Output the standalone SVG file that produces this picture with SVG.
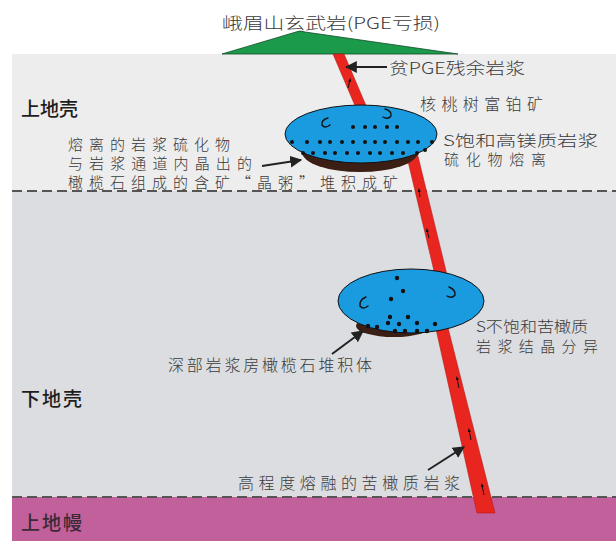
<svg xmlns="http://www.w3.org/2000/svg" width="616" height="546" viewBox="0 0 616 546">
  <defs>
    <marker id="head" viewBox="0 0 10 10" refX="9" refY="5" markerWidth="6" markerHeight="6" orient="auto" markerUnits="strokeWidth">
      <path d="M0,0 L10,5 L0,10 z" fill="#222"/>
    </marker>
    <marker id="flow" viewBox="0 0 10 10" refX="5" refY="5" markerWidth="4" markerHeight="4" orient="auto">
      <path d="M0,1 L10,5 L0,9 z" fill="#111"/>
    </marker>
  </defs>
  <style>
    .song { font-family: "Noto Sans CJK SC", "Liberation Serif", sans-serif; fill: #3a3a3a; font-size: 16px; font-weight: 300; }
    .tight { font-size: 15px; }
    .hei { font-family: "Noto Sans CJK SC", "Liberation Sans", sans-serif; fill: #1e1e1e; font-size: 19px; font-weight: 500; }
    .dash { stroke: #555; stroke-width: 2; stroke-dasharray: 10 5; fill: none; }
    .dike { fill: #e8261f; stroke: #b81a16; stroke-width: 0.6; }
    .pointer { stroke: #222; stroke-width: 2; fill: none; marker-end: url(#head); }
    .dot { fill: #111; }
    .hook { fill: none; stroke: #111; stroke-width: 1.4; stroke-linecap: round; }
    .chamber { fill: #1a9be0; stroke: #111; stroke-width: 1; }
    .cumulate { fill: #3b1e14; }
    .tick { stroke: #111; stroke-width: 1; marker-end: url(#flow); }
  </style>

  <!-- crust and mantle layers -->
  <g id="layers">
    <rect x="0" y="0" width="616" height="546" fill="#ffffff"/>
    <rect x="12" y="54" width="604" height="137" fill="#ededed"/>
    <rect x="12" y="191" width="604" height="306" fill="#dcdde0"/>
    <rect x="12" y="497" width="604" height="44" fill="#c2609c"/>
    <line class="dash" x1="12" y1="191" x2="616" y2="191"/>
    <line class="dash" x1="12" y1="497" x2="616" y2="497"/>
  </g>

  <!-- Emeishan basalt cover -->
  <g id="basalt">
    <path d="M222,54 L296,32 Q300,30 305,32 L458,54 Z" fill="#1c9a4b" stroke="#0f4a25" stroke-width="0.8"/>
  </g>

  <!-- magma conduit segments -->
  <g id="conduit">
    <polygon class="dike" points="333,54 344,54 373,122 362,122"/>
    <polygon class="dike" points="403,140 414,140 447,275 435,275"/>
    <polygon class="dike" points="434,320 446,320 495,513 477,513"/>
    <line class="tick" x1="348" y1="88" x2="350" y2="80"/>
    <line class="tick" x1="420" y1="197" x2="419" y2="190"/>
    <line class="tick" x1="429" y1="238" x2="427" y2="230"/>
    <line class="tick" x1="459" y1="388" x2="457" y2="378"/>
    <line class="tick" x1="471" y1="440" x2="469" y2="430"/>
    <line class="tick" x1="484" y1="495" x2="482" y2="485"/>
  </g>

  <!-- Hetaoshu Pt-rich sulfide chamber -->
  <g id="upper-chamber">
    <ellipse class="cumulate" cx="360" cy="152" rx="58" ry="20"/>
    <ellipse class="chamber" cx="361" cy="134" rx="76" ry="29"/>
    <path class="hook" d="M328,118 Q321,120 322,125 Q325,129 330,125"/>
    <path class="hook" d="M385,109 Q392,111 391,116 Q388,120 383,117"/>
    <g class="dot">
      <circle cx="353" cy="127" r="2"/><circle cx="365" cy="127" r="2"/><circle cx="375" cy="127" r="2"/>
      <circle cx="387" cy="127" r="2"/><circle cx="397" cy="127" r="2"/>
      <circle cx="292" cy="142" r="2"/><circle cx="307" cy="142" r="2"/><circle cx="320" cy="142" r="2"/>
      <circle cx="330" cy="142" r="2"/><circle cx="342" cy="142" r="2"/><circle cx="353" cy="142" r="2"/>
      <circle cx="365" cy="142" r="2"/><circle cx="375" cy="142" r="2"/><circle cx="385" cy="142" r="2"/>
      <circle cx="397" cy="142" r="2"/><circle cx="408" cy="142" r="2"/><circle cx="418" cy="142" r="2"/>
      <circle cx="432" cy="142" r="2"/>
      <circle cx="303" cy="153" r="2"/><circle cx="313" cy="153" r="2"/><circle cx="325" cy="153" r="2"/>
      <circle cx="335" cy="153" r="2"/><circle cx="347" cy="153" r="2"/><circle cx="358" cy="153" r="2"/>
      <circle cx="370" cy="153" r="2"/><circle cx="380" cy="153" r="2"/><circle cx="392" cy="153" r="2"/>
      <circle cx="403" cy="153" r="2"/><circle cx="417" cy="153" r="2"/><circle cx="425" cy="150" r="2"/>
    </g>
  </g>

  <!-- deep olivine cumulate chamber -->
  <g id="lower-chamber">
    <ellipse class="cumulate" cx="394" cy="326" rx="38" ry="11"/>
    <ellipse class="chamber" cx="411" cy="301" rx="73" ry="32"/>
    <path class="hook" d="M366,297 Q359,300 360,306 Q363,310 368,306"/>
    <path class="hook" d="M449,287 Q456,290 455,295 Q452,299 447,296"/>
    <g class="dot">
      <circle cx="397" cy="278" r="2.2"/><circle cx="403" cy="291" r="2.2"/><circle cx="391" cy="299" r="2.2"/>
      <circle cx="390" cy="317" r="2.2"/><circle cx="408" cy="317" r="2.2"/>
      <circle cx="368" cy="326" r="2.2"/><circle cx="377" cy="327" r="2.2"/><circle cx="388" cy="323" r="2.2"/>
      <circle cx="399" cy="324" r="2.2"/><circle cx="417" cy="323" r="2.2"/><circle cx="435" cy="324" r="2.2"/>
      <circle cx="395" cy="331" r="2.2"/><circle cx="405" cy="331" r="2.2"/><circle cx="417" cy="331" r="2.2"/>
      <circle cx="427" cy="331" r="2.2"/>
    </g>
  </g>

  <!-- label pointers -->
  <g id="connectors">
    <line class="pointer" x1="387" y1="67" x2="346" y2="67"/>
    <line class="pointer" x1="262" y1="166" x2="301" y2="160"/>
    <line class="pointer" x1="332" y1="354" x2="363" y2="331"/>
    <line class="pointer" x1="428" y1="470" x2="464" y2="447"/>
  </g>

  <!-- labels -->
  <g id="labels">
    <text class="song" x="222" y="29" font-size="17" textLength="218" lengthAdjust="spacingAndGlyphs">峨眉山玄武岩(PGE亏损)</text>
    <text class="song" x="389" y="74" textLength="136" lengthAdjust="spacingAndGlyphs">贫PGE残余岩浆</text>
    <text class="hei" x="21" y="116" textLength="57">上地壳</text>
    <text class="song" x="420" y="110" font-size="17" textLength="123">核桃树富铂矿</text>
    <text class="song tight" x="68" y="150" textLength="162">熔离的岩浆硫化物</text>
    <text class="song tight" x="68" y="169" textLength="184">与岩浆通道内晶出的</text>
    <text class="song tight" x="68" y="188" textLength="330">橄榄石组成的含矿“晶粥”堆积成矿</text>
    <text class="song tight" x="443" y="146" textLength="155" lengthAdjust="spacingAndGlyphs">S饱和高镁质岩浆</text>
    <text class="song tight" x="444" y="165" textLength="102">硫化物熔离</text>
    <text class="song tight" x="476" y="332" textLength="112" lengthAdjust="spacingAndGlyphs">S不饱和苦橄质</text>
    <text class="song tight" x="476" y="352" textLength="122">岩浆结晶分异</text>
    <text class="song" x="168" y="371" font-size="15" textLength="204">深部岩浆房橄榄石堆积体</text>
    <text class="hei" x="21" y="406" textLength="61">下地壳</text>
    <text class="song" x="238" y="489" textLength="222">高程度熔融的苦橄质岩浆</text>
    <text class="hei" x="21" y="530" textLength="61" style="fill:#3a2a35">上地幔</text>
  </g>
</svg>
